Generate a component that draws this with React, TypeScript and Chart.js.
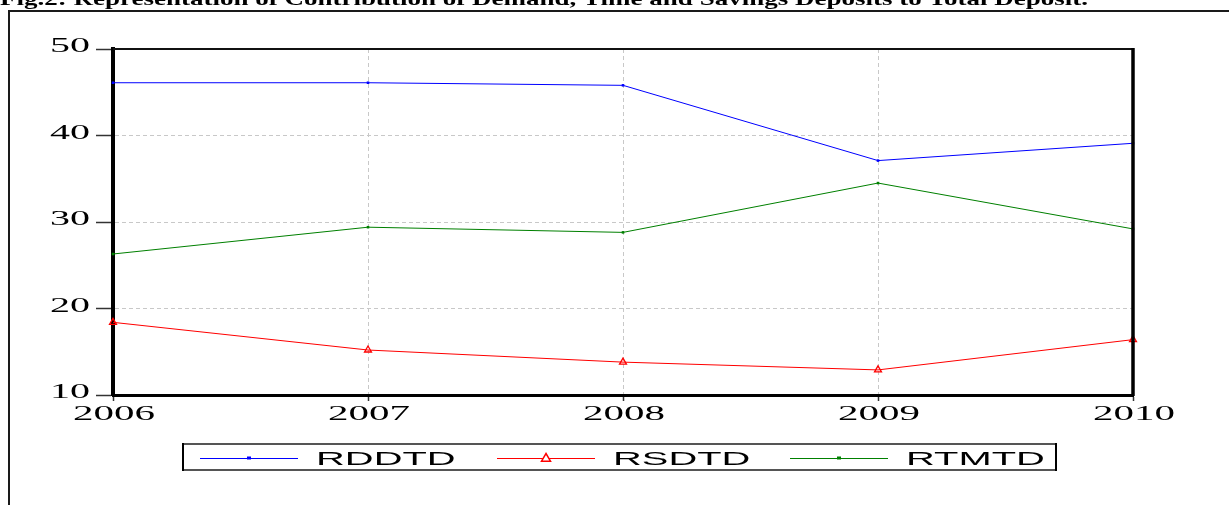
import React, { useEffect, useRef } from 'react';
import { Chart, registerables } from 'chart.js';

Chart.register(...registerables);

const years = ['2006', '2007', '2008', '2009', '2010'];
const rddtd = [46.1, 46.1, 45.8, 37.1, 39.1];
const rsdtd = [18.4, 15.2, 13.8, 12.9, 16.4];
const rtmtd = [26.3, 29.4, 28.8, 34.5, 29.2];
const seriesNames = ['RDDTD', 'RSDTD', 'RTMTD'];
const seriesColors = ['#0000ff', '#ff0000', '#008000'];
const yMin = 10;
const yMax = 50;
const yStep = 10;
const titleText =
  'Fig.2: Representation of Contribution of Demand, Time and Savings Deposits to Total Deposit.';

const W = 1229;
const H = 505;

function drawMarker(ctx: CanvasRenderingContext2D, kind: number, cx: number, cy: number) {
  ctx.save();
  if (kind === 1) {
    const r = 4.5;
    ctx.beginPath();
    ctx.moveTo(cx, cy - r);
    ctx.lineTo(cx + r, cy + r * 0.7);
    ctx.lineTo(cx - r, cy + r * 0.7);
    ctx.closePath();
    ctx.fillStyle = '#ffffff';
    ctx.fill();
    ctx.strokeStyle = seriesColors[1];
    ctx.lineWidth = 1.5;
    ctx.stroke();
  } else {
    ctx.fillStyle = seriesColors[kind];
    ctx.fillRect(cx - 2, cy - 1.5, 4, 3);
  }
  ctx.restore();
}

function stretchedText(
  ctx: CanvasRenderingContext2D,
  text: string,
  x: number,
  y: number,
  font: string,
  sx: number,
  align: CanvasTextAlign,
  baseline: CanvasTextBaseline
) {
  ctx.save();
  ctx.translate(x, y);
  ctx.scale(sx, 1);
  ctx.font = font;
  ctx.fillStyle = '#000';
  ctx.textAlign = align;
  ctx.textBaseline = baseline;
  ctx.fillText(text, 0, 0);
  ctx.restore();
}

const decor = {
  id: 'decor',
  beforeDraw(chart: any) {
    const ctx = chart.ctx as CanvasRenderingContext2D;
    ctx.save();
    ctx.fillStyle = '#ffffff';
    ctx.fillRect(0, 0, W, H);
    ctx.restore();
  },
  afterDraw(chart: any) {
    const ctx = chart.ctx as CanvasRenderingContext2D;
    const a = chart.chartArea;
    const xs = chart.scales.x;
    const ys = chart.scales.y;
    ctx.save();

    // title (cropped at top)
    ctx.save();
    ctx.font = 'bold 19px "Liberation Serif"';
    const tw = ctx.measureText(titleText).width;
    const tsx = 1088 / tw;
    ctx.translate(0, 5);
    ctx.scale(tsx, 1);
    ctx.fillStyle = '#000';
    ctx.textBaseline = 'alphabetic';
    ctx.fillText(titleText, 0, 0);
    ctx.restore();

    // outer frame
    ctx.strokeStyle = '#1a1a1a';
    ctx.lineWidth = 2;
    ctx.beginPath();
    ctx.moveTo(9, H);
    ctx.lineTo(9, 11);
    ctx.lineTo(W, 11);
    ctx.stroke();

    // plot top and right borders
    ctx.strokeStyle = '#111';
    ctx.lineWidth = 2;
    ctx.beginPath();
    ctx.moveTo(a.left, a.top);
    ctx.lineTo(a.right, a.top);
    ctx.stroke();
    ctx.strokeStyle = '#000';
    ctx.lineWidth = 3.5;
    ctx.beginPath();
    ctx.moveTo(a.right, a.top - 1);
    ctx.lineTo(a.right, a.bottom + 1);
    ctx.stroke();

    // y tick labels
    ys.ticks.forEach((t: any) => {
      const py = ys.getPixelForValue(t.value);
      stretchedText(ctx, String(t.value), 90, py - 2, '20px "Liberation Serif"', 2, 'right', 'middle');
    });
    // x tick labels
    years.forEach((lab, i) => {
      const px = xs.getPixelForValue(i);
      stretchedText(ctx, lab, px + 1, 415, '20px "Liberation Serif"', 2.05, 'center', 'middle');
    });

    // legend box
    ctx.strokeStyle = '#555';
    ctx.lineWidth = 2;
    ctx.strokeRect(183, 444, 873, 26);
    ctx.strokeStyle = '#000';
    ctx.lineWidth = 2;
    ctx.beginPath();
    ctx.moveTo(183, 443);
    ctx.lineTo(183, 471);
    ctx.moveTo(1056, 443);
    ctx.lineTo(1056, 471);
    ctx.stroke();

    const itemX = [200, 497, 790];
    const ly = 458;
    seriesNames.forEach((name, i) => {
      const x0 = itemX[i];
      ctx.strokeStyle = seriesColors[i];
      ctx.lineWidth = 1;
      ctx.beginPath();
      ctx.moveTo(x0, ly + 0.5);
      ctx.lineTo(x0 + 98, ly + 0.5);
      ctx.stroke();
      drawMarker(ctx, i, x0 + 49, ly);
      stretchedText(ctx, name, x0 + 116, 465, '19px "Liberation Sans"', 2.1, 'left', 'alphabetic');
    });

    ctx.restore();
  },
};

export default function App() {
  const ref = useRef<HTMLCanvasElement | null>(null);

  useEffect(() => {
    const canvas = ref.current;
    if (!canvas) return;
    const gridColor = (c: any, n: number) =>
      c.index === 0 || c.index === n - 1 ? 'rgba(0,0,0,0)' : '#c8c8c8';
    const chart = new Chart(canvas, {
      type: 'line',
      data: {
        labels: years,
        datasets: [
          {
            label: seriesNames[0],
            data: rddtd,
            borderColor: seriesColors[0],
            backgroundColor: seriesColors[0],
            borderWidth: 1,
            pointStyle: 'rect',
            pointRadius: 1.8,
            pointBorderWidth: 0,
            tension: 0,
            clip: false,
          },
          {
            label: seriesNames[1],
            data: rsdtd,
            borderColor: seriesColors[1],
            backgroundColor: '#ffffff',
            pointBorderColor: seriesColors[1],
            pointBackgroundColor: 'rgba(255,255,255,0)',
            borderWidth: 1,
            pointStyle: 'triangle',
            pointRadius: 4,
            pointBorderWidth: 1.3,
            tension: 0,
            clip: false,
          },
          {
            label: seriesNames[2],
            data: rtmtd,
            borderColor: seriesColors[2],
            backgroundColor: seriesColors[2],
            borderWidth: 1,
            pointStyle: 'rect',
            pointRadius: 1.8,
            pointBorderWidth: 0,
            tension: 0,
            clip: false,
          },
        ],
      },
      options: {
        animation: false,
        responsive: false,
        devicePixelRatio: 1,
        layout: { padding: { left: 96, top: 49, right: 96, bottom: 104 } },
        plugins: {
          legend: { display: false },
          tooltip: { enabled: false },
          title: { display: false },
        },
        scales: {
          x: {
            offset: false,
            ticks: { display: false },
            grid: {
              color: (c: any) => gridColor(c, years.length),
              lineWidth: 1,
              drawTicks: true,
              tickLength: 6,
              tickColor: '#333',
              tickWidth: 1.5,
            },
            border: { display: true, color: '#000', width: 3, dash: [4, 3] },
          },
          y: {
            min: yMin,
            max: yMax,
            ticks: { display: false, stepSize: yStep },
            grid: {
              color: (c: any) => gridColor(c, (yMax - yMin) / yStep + 1),
              lineWidth: 1,
              drawTicks: true,
              tickLength: 17,
              tickColor: '#333',
              tickWidth: 1.5,
            },
            border: { display: true, color: '#000', width: 4, dash: [4, 3] },
          },
        },
      },
      plugins: [decor],
    });
    return () => chart.destroy();
  }, []);

  return (
    <canvas
      ref={ref}
      width={W}
      height={H}
      style={{ position: 'fixed', left: 0, top: 0, width: W, height: H, display: 'block' }}
    />
  );
}
